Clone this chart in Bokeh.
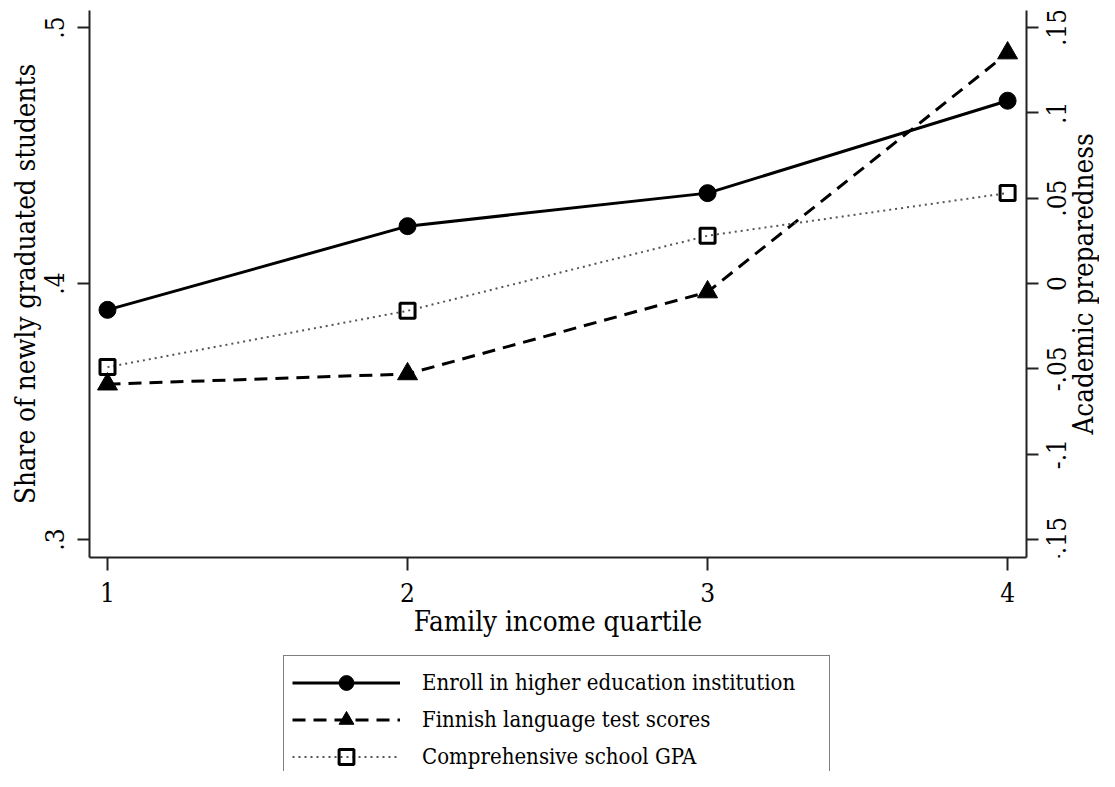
import math
from bokeh.plotting import figure
from bokeh.layouts import column, row
from bokeh.models import (Range1d, LinearAxis, FixedTicker, CustomJSTickFormatter,
                          Legend, LegendItem, ColumnDataSource, Label)
from bokeh.core.properties import value
from bokeh.embed import file_html
from bokeh.resources import INLINE

# ---------------- data ----------------
quartiles = [1, 2, 3, 4]
x_tick_labels = ["1", "2", "3", "4"]
enroll_share = [0.3897, 0.4224, 0.4353, 0.4714]      # left axis
finnish_scores = [-0.059, -0.053, -0.005, 0.135]     # right axis
gpa_scores = [-0.049, -0.016, 0.028, 0.053]          # right axis
left_ticks = [0.3, 0.4, 0.5]
left_tick_labels = [".3", ".4", ".5"]
right_ticks = [-0.15, -0.1, -0.05, 0.0, 0.05, 0.1, 0.15]
right_tick_labels = ["-.15", "-.1", "-.05", "0", ".05", ".1", ".15"]
series_names = ["Enroll in higher education institution",
                "Finnish language test scores",
                "Comprehensive school GPA"]
x_title = "Family income quartile"
left_title = "Share of newly graduated students"
right_title = "Academic preparedness"

FONT = "'DejaVu Serif Condensed', 'Liberation Serif', serif"
INK = "#000000"
AXIS = "#222222"
W = 1099
TOP, BOTTOM = 10, 97
H_MAIN = 654
W_MAIN = 1040
W_SIDE = W - W_MAIN

left_range = Range1d(0.29297, 0.50664)
right_range = Range1d(-0.16055, 0.15996)

p = figure(width=W_MAIN, height=H_MAIN,
           x_range=Range1d(0.94, 4.063), y_range=left_range,
           output_backend="svg", toolbar_location=None,
           min_border_left=89, min_border_right=14,
           min_border_top=TOP, min_border_bottom=BOTTOM)
p.extra_y_ranges = {"right": right_range}
p.outline_line_color = None
p.xgrid.visible = False
p.ygrid.visible = False
p.background_fill_color = "white"
p.border_fill_color = "white"

def fmt(vals, labs):
    return CustomJSTickFormatter(args=dict(vals=vals, labs=labs), code="""
        for (let i = 0; i < vals.length; i++) {
            if (Math.abs(tick - vals[i]) < 1e-9) return labs[i];
        }
        return '';
    """)

def style_axis(ax, label_size, title_size):
    ax.axis_line_color = AXIS
    ax.axis_line_width = 2
    ax.major_tick_line_color = AXIS
    ax.major_tick_line_width = 2
    ax.major_tick_out = 12
    ax.major_tick_in = 0
    ax.minor_tick_line_color = None
    ax.major_label_text_font = FONT
    ax.major_label_text_font_size = label_size
    ax.major_label_text_color = INK
    ax.axis_label_text_font = FONT
    ax.axis_label_text_font_size = title_size
    ax.axis_label_text_font_style = "normal"
    ax.axis_label_text_color = INK

# x axis
xa = p.xaxis[0]
xa.ticker = FixedTicker(ticks=quartiles)
xa.formatter = fmt(quartiles, x_tick_labels)
xa.axis_label = x_title
style_axis(xa, "26px", "27.5px")
xa.major_tick_out = 13
xa.major_label_standoff = 12
xa.axis_label_standoff = 0

# left axis
ya = p.yaxis[0]
ya.ticker = FixedTicker(ticks=left_ticks)
ya.formatter = fmt(left_ticks, left_tick_labels)
ya.axis_label = left_title
style_axis(ya, "26px", "27.5px")
ya.major_label_orientation = "vertical"
ya.major_label_standoff = 13
ya.axis_label_standoff = 2

# right axis: line and ticks here, its labels are drawn in the side strip
ra = LinearAxis(y_range_name="right")
ra.ticker = FixedTicker(ticks=right_ticks)
ra.formatter = fmt(right_ticks, ["" for _ in right_ticks])
style_axis(ra, "1px", "1px")
ra.major_label_standoff = 0
p.add_layout(ra, "right")

# ---------------- series ----------------
def draw(fig, rng_name=None):
    kw = {} if rng_name is None else {"y_range_name": rng_name}
    l1 = fig.line(quartiles, enroll_share, line_color=INK, line_width=3)
    m1 = fig.scatter(quartiles, enroll_share, marker="circle", size=17,
                     fill_color=INK, line_color=INK)
    l2 = fig.line(quartiles, finnish_scores, line_color=INK, line_width=3,
                  line_dash="13 8", **kw)
    m2 = fig.scatter(quartiles, finnish_scores, marker="triangle", size=20,
                     fill_color=INK, line_color=INK, **kw)
    l3 = fig.line(quartiles, gpa_scores, line_color="#555555", line_width=2,
                  line_dash="2 4", **kw)
    m3 = fig.scatter(quartiles, gpa_scores, marker="square", size=15,
                     fill_color=None, line_color=INK, line_width=3, **kw)
    return [(l1, m1), (l2, m2), (l3, m3)]

draw(p, "right")

# ---------------- right-axis labels strip (text reads bottom to top) ----------------
side = figure(width=W_SIDE, height=H_MAIN,
              x_range=Range1d(0, W_SIDE), y_range=right_range,
              output_backend="svg", toolbar_location=None,
              x_axis_type=None, y_axis_type=None,
              min_border_left=0, min_border_right=0,
              min_border_top=TOP, min_border_bottom=BOTTOM)
side.outline_line_color = None
side.xgrid.visible = False
side.ygrid.visible = False
side.background_fill_color = "white"
side.border_fill_color = "white"
tick_src = ColumnDataSource(dict(y=right_ticks, text=right_tick_labels,
                                 x=[16] * len(right_ticks)))
side.text(x="x", y="y", text="text", source=tick_src, angle=math.pi / 2,
          text_align="center", text_baseline="middle",
          text_font=value(FONT), text_font_size=value("26px"), text_color=INK)
side.add_layout(Label(x=42, y=(H_MAIN - TOP - BOTTOM) / 2,
                      x_units="data", y_units="screen",
                      text=right_title, angle=math.pi / 2,
                      text_align="center", text_baseline="middle",
                      text_font=FONT, text_font_size="27.5px", text_color=INK))

# ---------------- legend (separate strip below, clipped at the bottom) ----------------
p2 = figure(width=W, height=117, x_range=Range1d(100, 101), y_range=Range1d(100, 101),
            output_backend="svg", toolbar_location=None,
            x_axis_type=None, y_axis_type=None,
            min_border_left=85, min_border_right=0, min_border_top=0, min_border_bottom=0)
p2.outline_line_color = None
p2.xgrid.visible = False
p2.ygrid.visible = False
p2.background_fill_color = "white"
p2.border_fill_color = "white"
pairs = draw(p2)

legend = Legend(items=[LegendItem(label=series_names[i], renderers=list(pairs[i]))
                       for i in range(3)],
                location=(198, -13))
legend.label_text_font = FONT
legend.label_text_font_size = "22px"
legend.label_text_color = INK
legend.glyph_width = 108
legend.glyph_height = 37
legend.label_height = 37
legend.label_standoff = 22
legend.label_width = 399
legend.spacing = 0
legend.padding = 8
legend.margin = 0
legend.border_line_color = INK
legend.border_line_width = 1.5
legend.background_fill_color = "white"
legend.background_fill_alpha = 1
p2.add_layout(legend, "center")

layout = column(row(p, side, spacing=0), p2, spacing=0)
open("out.html", "w").write(file_html(layout, INLINE))
